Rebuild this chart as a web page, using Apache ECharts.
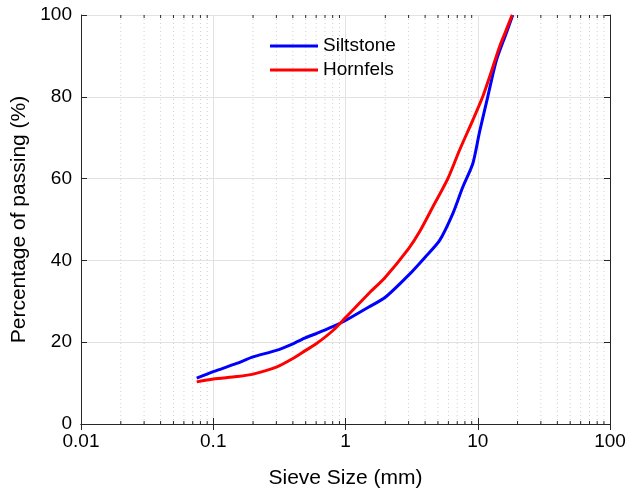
<!DOCTYPE html>
<html>
<head>
<meta charset="utf-8">
<script src="https://cdn.jsdelivr.net/npm/echarts@6/dist/echarts.min.js"></script>
<style>
html,body{margin:0;padding:0;background:#fff;}
#chart{width:632px;height:491px;}
</style>
</head>
<body>
<div id="chart"></div>
<script>
const siltSizes = [0.075, 0.1, 0.15, 0.2, 0.3, 0.4, 0.5, 0.6, 0.8, 1, 1.5, 2, 3, 4, 5.15, 6.49, 7.72, 9.18, 10.3, 11.9, 13.8, 16.4, 18.4];
const siltValues = [11.2, 12.8, 14.8, 16.4, 18.0, 19.6, 21.1, 22.1, 23.8, 25.3, 28.6, 31.0, 36.4, 40.8, 44.9, 51.5, 58.0, 63.7, 71.3, 80, 88.8, 95.5, 100];
const hornSizes = [0.075, 0.1, 0.15, 0.2, 0.3, 0.4, 0.5, 0.6, 0.8, 1, 1.5, 2, 3, 3.63, 4.58, 5.94, 7.29, 9.18, 10.9, 12.3, 14.6, 16.4, 18.2];
const hornValues = [10.3, 11.0, 11.6, 12.2, 13.9, 16.0, 18.0, 19.6, 22.8, 26.0, 31.9, 35.9, 42.9, 47.0, 53.1, 60, 67.0, 74.3, 80, 84.9, 92.2, 96.3, 100];
const minorTicks = [0.02,0.03,0.04,0.05,0.06,0.07,0.08,0.09,
                    0.2,0.3,0.4,0.5,0.6,0.7,0.8,0.9,
                    2,3,4,5,6,7,8,9,
                    20,30,40,50,60,70,80,90];
const xLabel = 'Sieve Size (mm)';
const yLabel = 'Percentage of passing (%)';

const axisColor = '#262626';
const font = 'Liberation Sans, Arial, sans-serif';

const chart = echarts.init(document.getElementById('chart'), null, {renderer: 'canvas'});

const fmt = v => String(parseFloat(Number(v).toPrecision(6)));

const option = {
  animation: false,
  backgroundColor: '#fff',
  grid: {left: 81, right: 22, top: 15, bottom: 67, containLabel: false, outerBoundsMode: 'none'},
  legend: {
    orient: 'vertical',
    left: 270, top: 36,
    padding: 0,
    itemWidth: 48, itemHeight: 3,
    itemGap: 4,
    icon: 'rect',
    textStyle: {fontSize: 19, fontFamily: font, color: '#000', lineHeight: 20},
    data: ['Siltstone', 'Hornfels']
  },
  xAxis: [{
    type: 'log', logBase: 10, min: 0.01, max: 100,
    name: xLabel, nameLocation: 'middle', nameGap: 44,
    nameTextStyle: {fontSize: 21, fontFamily: font, color: '#000', verticalAlign: 'top'},
    axisLine: {show: true, lineStyle: {color: axisColor, width: 1}},
    axisTick: {show: true, inside: true, length: 6, lineStyle: {color: axisColor}},
    axisLabel: {fontSize: 19, fontFamily: font, color: '#000', margin: 8, formatter: fmt},
    splitLine: {show: true, lineStyle: {color: '#e2e2e2', width: 1}}
  }, {
    type: 'log', logBase: 10, min: 0.01, max: 100, position: 'top',
    axisLine: {show: true, lineStyle: {color: axisColor, width: 1}},
    axisTick: {show: true, inside: true, length: 6, lineStyle: {color: axisColor}},
    axisLabel: {show: false},
    splitLine: {show: false}
  }],
  yAxis: [{
    type: 'value', min: 0, max: 100, interval: 20,
    name: yLabel, nameLocation: 'middle', nameGap: 48,
    nameTextStyle: {fontSize: 21, fontFamily: font, color: '#000'},
    axisLine: {show: true, lineStyle: {color: axisColor, width: 1}},
    axisTick: {show: true, inside: true, length: 6, lineStyle: {color: axisColor}},
    axisLabel: {fontSize: 19, fontFamily: font, color: '#000', margin: 9},
    splitLine: {show: true, lineStyle: {color: '#e2e2e2', width: 1}}
  }, {
    type: 'value', min: 0, max: 100, interval: 20, position: 'right',
    axisLine: {show: true, lineStyle: {color: axisColor, width: 1}},
    axisTick: {show: true, inside: true, length: 6, lineStyle: {color: axisColor}},
    axisLabel: {show: false},
    splitLine: {show: false}
  }],
  series: [{
    type: 'custom',
    name: 'minor',
    silent: true,
    z: 1,
    xAxisIndex: 0, yAxisIndex: 0,
    encode: {x: 0, y: 1},
    data: minorTicks.map(v => [v, 0]),
    renderItem: function (params, api) {
      const v = api.value(0);
      const b = api.coord([v, 0]);
      const t = api.coord([v, 100]);
      return {type: 'group', children: [
        {type: 'line', shape: {x1: b[0], y1: b[1], x2: t[0], y2: t[1]},
         style: {stroke: '#cfcfcf', lineWidth: 1, lineDash: [1, 3]}},
        {type: 'line', shape: {x1: b[0], y1: b[1], x2: b[0], y2: b[1] - 3},
         style: {stroke: axisColor, lineWidth: 1}},
        {type: 'line', shape: {x1: t[0], y1: t[1], x2: t[0], y2: t[1] + 3},
         style: {stroke: axisColor, lineWidth: 1}}
      ]};
    }
  }, {
    type: 'line', name: 'Siltstone',
    data: siltSizes.map((s, i) => [s, siltValues[i]]),
    showSymbol: false, symbol: 'none', smooth: 0.25,
    lineStyle: {color: '#0000ff', width: 3},
    itemStyle: {color: '#0000ff'},
    z: 5
  }, {
    type: 'line', name: 'Hornfels',
    data: hornSizes.map((s, i) => [s, hornValues[i]]),
    showSymbol: false, symbol: 'none', smooth: 0.25,
    lineStyle: {color: '#ff0000', width: 3},
    itemStyle: {color: '#ff0000'},
    z: 5
  }]
};
chart.setOption(option);
</script>
</body>
</html>
